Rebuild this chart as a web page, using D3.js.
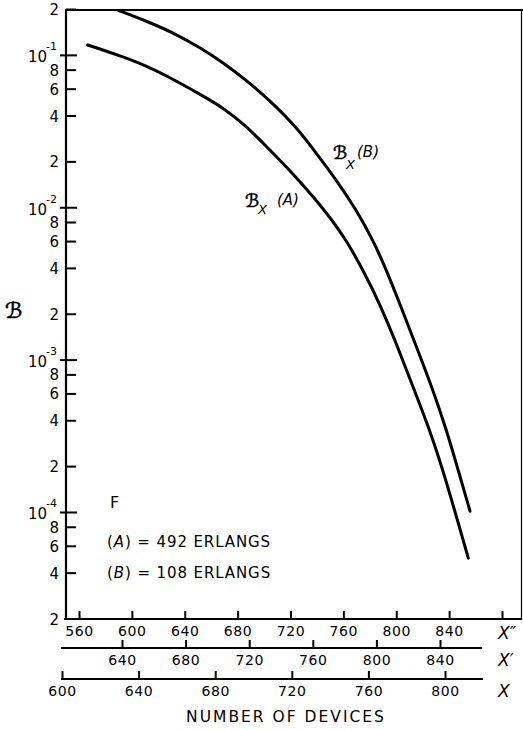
<!DOCTYPE html>
<html><head><meta charset="utf-8">
<script src="https://cdn.jsdelivr.net/npm/d3@7"></script>
<style>
body{margin:0;background:#fff}
svg{display:block}
text{font-family:"DejaVu Sans",sans-serif;fill:#000}
</style>
</head><body>
<svg id="c" width="523" height="730"></svg>
<script>
// ---- data (x in X'' units, y = blocking probability) ----
const xA = [566.6, 590.5, 610.7, 630.9, 651, 668.7, 686.3, 699.4, 724.7, 739.8, 749.9, 762.5, 775.1, 787.7, 800.3, 812.9, 825.5, 835.6, 854.5];
const yA = [0.117, 0.0998, 0.0857, 0.0700, 0.0559, 0.0456, 0.0345, 0.0265, 0.0158, 0.0111, 0.00865, 0.00608, 0.00386, 0.00233, 0.00127, 0.000661, 0.000344, 0.000188, 0.0000502];
const xB = [590, 613.2, 633.4, 651, 668.7, 686.3, 704.5, 724.7, 739.8, 755, 770.1, 782.6, 792.8, 802.8, 815.5, 828, 838.2, 847, 855.8];
const yB = [0.197, 0.165, 0.138, 0.113, 0.0902, 0.069, 0.0505, 0.0337, 0.0226, 0.0151, 0.0096, 0.00608, 0.00386, 0.00233, 0.00121, 0.00063, 0.000344, 0.000188, 0.000102];

const x2Ticks = [560, 600, 640, 680, 720, 760, 800, 840, 880];   // X''
const x2Labels = ["560","600","640","680","720","760","800","840",""];
const x1Ticks = [640, 680, 720, 760, 800, 840];                  // X'
const x0Ticks = [600, 640, 680, 720, 760, 800];                  // X
const yMinorTicks = [0.2, 0.08, 0.06, 0.04, 0.02, 0.008, 0.006, 0.004, 0.002, 0.0008, 0.0006, 0.0004, 0.0002, 0.00008, 0.00006, 0.00004, 0.00002];
const yDecadeTicks = [1e-1, 1e-2, 1e-3, 1e-4];
const yDecadeExp = ["-1", "-2", "-3", "-4"];

const svg = d3.select("#c");
svg.append("rect").attr("width",523).attr("height",730).attr("fill","#fff");

const y = d3.scaleLog().domain([2e-5, 0.2]).range([619, 9.5]);
const x2 = d3.scaleLinear().domain([560, 880]).range([79, 502]);
const x1 = d3.scaleLinear().domain([640, 840]).range([122, 440]);
const x0 = d3.scaleLinear().domain([600, 800]).range([62, 445]);

const k = "#000";
// frame
svg.append("line").attr("x1",66).attr("x2",523).attr("y1",10).attr("y2",10).attr("stroke",k).attr("stroke-width",2);
svg.append("line").attr("x1",66).attr("x2",66).attr("y1",9).attr("y2",620).attr("stroke",k).attr("stroke-width",2.2);
svg.append("line").attr("x1",521.5).attr("x2",521.5).attr("y1",10).attr("y2",620).attr("stroke",k).attr("stroke-width",1.2);

// y ticks
const yg = svg.append("g");
yg.selectAll("line.mi").data(yMinorTicks).join("line")
  .attr("x1",66).attr("x2",76).attr("y1",d=>y(d)).attr("y2",d=>y(d))
  .attr("stroke",k).attr("stroke-width",2);
yg.selectAll("text.mi").data(yMinorTicks).join("text")
  .attr("x",59).attr("y",d=>y(d)+5.5).attr("text-anchor","end").attr("font-size",15)
  .text(d=>String(Math.round(d/Math.pow(10,Math.floor(Math.log10(d)+1e-9)))));
yg.selectAll("line.de").data(yDecadeTicks).join("line")
  .attr("x1",60).attr("x2",77).attr("y1",d=>y(d)).attr("y2",d=>y(d))
  .attr("stroke",k).attr("stroke-width",2);
yg.selectAll("text.de").data(yDecadeTicks).join("text")
  .attr("x",47).attr("y",d=>y(d)+7).attr("text-anchor","end").attr("font-size",15)
  .text("10");
yg.selectAll("text.ex").data(yDecadeTicks).join("text")
  .attr("x",46).attr("y",d=>y(d)-5).attr("font-size",11)
  .text((d,i)=>yDecadeExp[i]);

// x axes
function xAxis(scale, ticks, yPos, x1p, x2p, pad, fmt){
  const g = svg.append("g").attr("transform",`translate(0,${yPos})`);
  g.call(d3.axisBottom(scale).tickValues(ticks).tickSizeInner(-8).tickSizeOuter(0).tickPadding(pad).tickFormat(fmt));
  g.select(".domain").remove();
  g.selectAll(".tick line").attr("stroke",k).attr("stroke-width",2);
  g.selectAll(".tick text").attr("font-size",14).attr("font-family","DejaVu Sans").attr("letter-spacing","0.6px");
  g.append("line").attr("x1",x1p).attr("x2",x2p).attr("y1",0).attr("y2",0).attr("stroke",k).attr("stroke-width",2);
}
xAxis(x2, x2Ticks, 619, 64, 522, 7, (d,i)=>x2Labels[i]);
xAxis(x1, x1Ticks, 648, 61, 482, 7, d=>String(d));
xAxis(x0, x0Ticks, 679, 61, 483, 7, d=>String(d));

// curves
const line = d3.line().x(d=>x2(d[0])).y(d=>y(d[1])).curve(d3.curveBasis);
svg.append("path").datum(xA.map((v,i)=>[v,yA[i]])).attr("d",line)
  .attr("fill","none").attr("stroke",k).attr("stroke-width",3).attr("stroke-linecap","round");
svg.append("path").datum(xB.map((v,i)=>[v,yB[i]])).attr("d",line)
  .attr("fill","none").attr("stroke",k).attr("stroke-width",3).attr("stroke-linecap","round");

// labels
function t(x,yv,s,size,italic,anchor){
  return svg.append("text").attr("x",x).attr("y",yv).attr("font-size",size)
    .attr("font-style",italic?"italic":"normal").attr("text-anchor",anchor||"start").text(s);
}
function script(x,yv,size){
  return t(x,yv,"ℬ",size,true).attr("stroke",k).attr("stroke-width",0.6);
}
script(5,318,22);
script(333,159,18); t(346,169,"X",13,true); t(357,157,"(B)",15,true);
script(245,207,18); t(258,214,"X",13,true); t(277,205,"(A)",15,true);
t(110,508,"F",16,false);
const la = svg.append("text").attr("x",107).attr("y",547).attr("font-size",15).attr("letter-spacing","0.9px");
la.append("tspan").text("(");
la.append("tspan").attr("font-style","italic").text("A");
la.append("tspan").text(") = 492 ERLANGS");
const lb = svg.append("text").attr("x",107).attr("y",578).attr("font-size",15).attr("letter-spacing","0.9px");
lb.append("tspan").text("(");
lb.append("tspan").attr("font-style","italic").text("B");
lb.append("tspan").text(") = 108 ERLANGS");
t(498,639,"X″",17,true); t(498,666,"X′",17,true); t(498,697,"X",17,true);
t(286,722,"NUMBER OF DEVICES",15.5,false,"middle").attr("letter-spacing","2px");
</script>
</body></html>
